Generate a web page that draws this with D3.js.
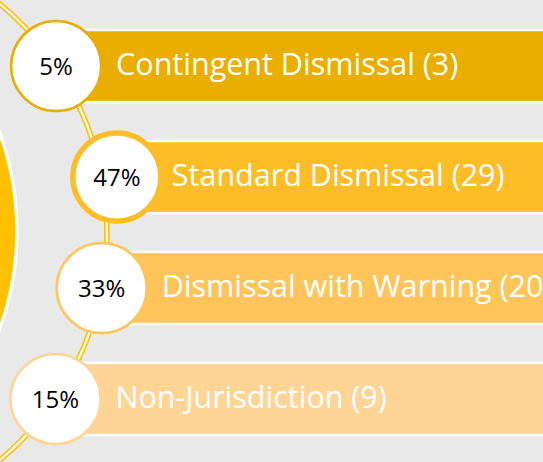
<!DOCTYPE html>
<html>
<head>
<meta charset="utf-8">
<script src="https://cdn.jsdelivr.net/npm/d3@7"></script>
<style>
  html, body { margin: 0; padding: 0; background: #e9e9e9; overflow: hidden; }
  svg { display: block; font-family: "Open Sans", sans-serif; }
</style>
</head>
<body>
<svg id="svg0" width="543" height="462"></svg>
<script>

// data
var categories = ['Contingent Dismissal', 'Standard Dismissal', 'Dismissal with Warning', 'Non-Jurisdiction'];
var counts = [3, 29, 20, 9];
var percents = [5, 47, 33, 15];
var colors = ['#e9ae00', '#fdbd26', '#ffc55a', '#ffd596'];

var width = 543;
var height = 462;

var svg0 = d3.select('#svg0');
var defs0 = svg0.append('defs');

defs0.append('filter')
    .attr('id', 'soft')
    .attr('x', '-20%').attr('y', '-20%')
    .attr('width', '140%').attr('height', '140%')
    .append('feGaussianBlur')
    .attr('stdDeviation', 1.4);

svg0.append('rect')
    .attr('width', width)
    .attr('height', height)
    .attr('fill', '#e9e9e9');

// big circle on the left
svg0.append('circle')
    .attr('cx', -269)
    .attr('cy', 231)
    .attr('r', 286)
    .attr('fill', '#ffc000')
    .attr('stroke', '#ffffff')
    .attr('stroke-width', 3.5);

// rows
var y = d3.scaleBand()
    .domain(categories)
    .range([30, 435])
    .paddingInner(0.35)
    .paddingOuter(0);

// the arc the circles sit on
var arcCx = -189, arcCy = 232, arcR = 296;
var xOnArc = function(yy) {
    return arcCx + Math.sqrt(arcR * arcR - (yy - arcCy) * (yy - arcCy));
};

var p = d3.path();
p.arc(arcCx, arcCy, arcR, -54 * Math.PI / 180, 54 * Math.PI / 180);

svg0.append('path')
    .attr('d', p.toString())
    .attr('fill', 'none')
    .attr('stroke', '#ffc000')
    .attr('stroke-width', 5.5);
svg0.append('path')
    .attr('d', p.toString())
    .attr('fill', 'none')
    .attr('stroke', '#ffffff')
    .attr('stroke-width', 2.2);

var maxPct = d3.max(percents);

var rows = categories.map(function(c, i) {
    var cy = y(c) + y.bandwidth() / 2;
    var top = percents[i] === maxPct;
    return {
        name: c,
        count: counts[i],
        pct: percents[i],
        color: colors[i],
        top: top,
        cy: cy,
        cx: xOnArc(cy) + (top ? 15 : 0)
    };
});

// bars
svg0.selectAll('rect.bar')
    .data(rows)
    .enter()
    .append('rect')
    .attr('class', 'bar')
    .attr('x', function(d) { return d.cx; })
    .attr('y', function(d) { return y(d.name); })
    .attr('width', width)
    .attr('height', y.bandwidth())
    .attr('fill', function(d) { return d.color; })
    .attr('stroke', '#ffffff')
    .attr('stroke-width', 2.5);

svg0.selectAll('text.label')
    .data(rows)
    .enter()
    .append('text')
    .attr('class', 'label')
    .attr('x', function(d) { return d.cx + (d.top ? 55 : 60); })
    .attr('y', function(d) { return d.cy; })
    .attr('dy', '0.3em')
    .attr('fill', '#ffffff')
    .attr('font-size', 30.5)
    .text(function(d) { return d.name + ' (' + d.count + ')'; });

// circles
var dots = svg0.selectAll('g.dot')
    .data(rows)
    .enter()
    .append('g')
    .attr('class', 'dot')
    .attr('transform', function(d) { return 'translate(' + d.cx + ',' + d.cy + ')'; });

dots.append('circle')
    .attr('r', function(d) { return d.top ? 44 : 45; })
    .attr('fill', '#ffffff')
    .attr('stroke', function(d) { return d.color; })
    .attr('stroke-width', function(d) { return d.top ? 5.5 : 2.5; });

dots.filter(function(d) { return d.top; })
    .append('circle')
    .attr('r', 39.5)
    .attr('fill', '#ffffff')
    .attr('filter', 'url(#soft)');

dots.append('text')
    .attr('text-anchor', 'middle')
    .attr('dy', '0.36em')
    .attr('fill', '#000000')
    .attr('font-size', 24)
    .text(function(d) { return d.pct + '%'; });

</script>
</body>
</html>
